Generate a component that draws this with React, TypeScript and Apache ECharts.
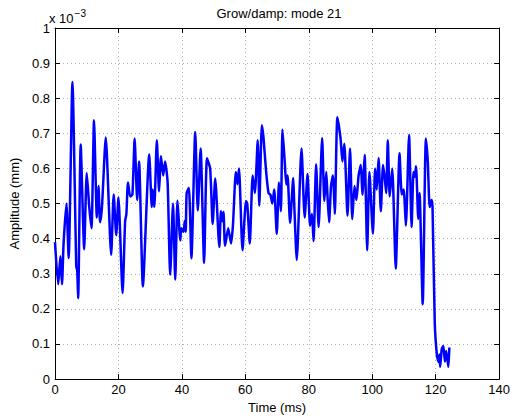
import React, { useEffect, useRef } from "react";
import * as echarts from "echarts";

const timeMs = [0, 1.0, 1.7, 2.2, 2.7, 3.6, 4.3, 5.5, 6.7, 7.0, 7.3, 8.1, 9.2, 10.0, 10.8, 11.5, 12.3, 13.2, 13.7, 14.2, 14.8, 16.0, 17.7, 18.5, 19.3, 20.0, 21.3, 22.1, 22.5, 23.0, 23.7, 24.4, 25.1, 25.9, 26.5, 27.7, 29.7, 30.5, 30.8, 31.3, 32.1, 32.8, 33.4, 34.1, 34.7, 35.5, 36.3, 37.2, 37.9, 38.6, 39.5, 39.8, 40.5, 40.9, 41.2, 41.5, 42.2, 43.0, 44.2, 45.0, 45.9, 47.0, 47.9, 48.9, 49.7, 50.5, 51.8, 52.3, 52.7, 53.1, 53.6, 54.6, 55.5, 56.1, 57.0, 57.5, 58.0, 59.1, 60.2, 60.6, 61.4, 62.3, 63.0, 63.9, 64.4, 65.2, 65.7, 66.5, 67.3, 67.9, 68.5, 69.1, 69.9, 70.6, 71.2, 71.7, 72.4, 72.9, 73.3, 74.1, 75.1, 75.4, 76.2, 77.7, 78.7, 79.6, 80.4, 81.0, 81.5, 82.3, 83.1, 84.2, 84.9, 85.5, 85.9, 86.4, 87.0, 87.6, 88.2, 89.0, 90.0, 90.6, 91.2, 92.2, 93.0, 93.7, 94.4, 95.0, 95.7, 96.4, 96.9, 97.6, 98.4, 99.1, 100.2, 100.9, 101.4, 102.0, 102.7, 103.4, 103.9, 104.4, 104.9, 105.5, 106.3, 107.4, 108.6, 109.3, 109.9, 110.6, 111.6, 112.4, 113.0, 113.4, 113.8, 114.5, 114.9, 115.9, 116.9, 117.5, 118.1, 118.7, 119.0, 119.7, 120.4, 120.9, 121.2, 121.4, 121.9, 122.4, 122.9, 123.3, 124.0, 124.3];

const amplitude = [0.39, 0.27, 0.35, 0.27, 0.385, 0.50, 0.345, 0.846, 0.32, 0.31, 0.23, 0.668, 0.37, 0.587, 0.49, 0.43, 0.737, 0.46, 0.55, 0.447, 0.49, 0.688, 0.354, 0.526, 0.41, 0.517, 0.245, 0.45, 0.47, 0.56, 0.52, 0.526, 0.685, 0.51, 0.62, 0.264, 0.64, 0.49, 0.54, 0.49, 0.68, 0.535, 0.635, 0.58, 0.62, 0.56, 0.297, 0.50, 0.283, 0.508, 0.395, 0.43, 0.42, 0.45, 0.42, 0.53, 0.545, 0.344, 0.704, 0.48, 0.657, 0.331, 0.629, 0.60, 0.442, 0.571, 0.376, 0.478, 0.45, 0.476, 0.38, 0.43, 0.386, 0.44, 0.59, 0.555, 0.60, 0.367, 0.507, 0.50, 0.386, 0.58, 0.53, 0.68, 0.494, 0.723, 0.69, 0.596, 0.53, 0.525, 0.50, 0.54, 0.414, 0.56, 0.478, 0.711, 0.62, 0.554, 0.58, 0.445, 0.573, 0.50, 0.339, 0.657, 0.46, 0.584, 0.437, 0.47, 0.393, 0.612, 0.433, 0.687, 0.507, 0.59, 0.52, 0.447, 0.55, 0.58, 0.47, 0.746, 0.686, 0.62, 0.67, 0.465, 0.657, 0.456, 0.55, 0.51, 0.58, 0.61, 0.525, 0.638, 0.367, 0.59, 0.414, 0.60, 0.54, 0.63, 0.478, 0.61, 0.576, 0.53, 0.68, 0.52, 0.60, 0.315, 0.643, 0.526, 0.54, 0.437, 0.695, 0.433, 0.59, 0.576, 0.606, 0.456, 0.53, 0.213, 0.685, 0.62, 0.49, 0.51, 0.49, 0.16, 0.067, 0.049, 0.07, 0.035, 0.085, 0.094, 0.05, 0.08, 0.035, 0.09];

const titleText = "Grow/damp: mode 21";
const xLabel = "Time (ms)";
const yLabel = "Amplitude (mm)";

export default function App() {
  const ref = useRef<HTMLDivElement>(null);
  useEffect(() => {
    if (!ref.current) return;
    document.body.style.margin = "0";
    document.body.style.overflow = "hidden";
    const chart = echarts.init(ref.current, null, { renderer: "svg", width: 513, height: 419 });
    const font = "Liberation Sans, Arial, Helvetica, sans-serif";
    const fs = 13;
    const data = timeMs.map((t, i) => [t, amplitude[i]]);
    const gridLine = { show: true, lineStyle: { color: "#b0b0b0", type: [1, 3] as any, width: 1 } };
    const axisLine = { show: true, onZero: false, lineStyle: { color: "#000", width: 1 } };
    const tick = { show: true, inside: true, length: 5, lineStyle: { color: "#000" } };
    chart.setOption({
      animation: false,
      backgroundColor: "#fff",
      textStyle: { fontFamily: font },
      title: {
        text: titleText,
        left: 274,
        textAlign: "center",
        top: 2,
        textStyle: { fontSize: fs, fontWeight: "normal", color: "#000", fontFamily: font },
      },
      grid: { left: 48, right: 13, top: 28, bottom: 35, containLabel: false },
      xAxis: [
        {
          type: "value",
          min: 0,
          max: 140,
          interval: 20,
          position: "bottom",
          name: xLabel,
          nameLocation: "middle",
          nameGap: 18,
          nameTextStyle: { fontSize: fs, color: "#000", fontFamily: font },
          axisLine,
          axisTick: tick,
          axisLabel: { color: "#000", fontSize: fs, margin: 4, fontFamily: font },
          splitLine: gridLine,
        },
        {
          type: "value",
          min: 0,
          max: 140,
          interval: 20,
          position: "top",
          axisLine,
          axisTick: tick,
          axisLabel: { show: false },
          splitLine: { show: false },
        },
      ],
      yAxis: [
        {
          type: "value",
          min: 0,
          max: 1,
          interval: 0.1,
          position: "left",
          name: yLabel,
          nameLocation: "middle",
          nameGap: 34,
          nameTextStyle: { fontSize: fs, color: "#000", fontFamily: font },
          axisLine,
          axisTick: tick,
          axisLabel: {
            color: "#000",
            fontSize: fs,
            margin: 5,
            fontFamily: font,
            formatter: (v: number) => String(Math.round(v * 10) / 10),
          },
          splitLine: gridLine,
        },
        {
          type: "value",
          min: 0,
          max: 1,
          interval: 0.1,
          position: "right",
          axisLine,
          axisTick: tick,
          axisLabel: { show: false },
          splitLine: { show: false },
        },
      ],
      graphic: [
        {
          type: "text",
          left: 49,
          top: 8,
          style: {
            text: "{a|x 10}{b|−3}",
            rich: {
              a: { fontSize: fs, fontFamily: font, fill: "#000", verticalAlign: "bottom" },
              b: { fontSize: 10, fontFamily: font, fill: "#000", verticalAlign: "top", padding: [0, 0, 7, 1] },
            },
          },
        },
      ],
      series: [
        {
          type: "line",
          data,
          showSymbol: false,
          smooth: 0.2,
          lineStyle: { color: "#0000ff", width: 2.5 },
          itemStyle: { color: "#0000ff" },
        },
      ],
    });
    return () => chart.dispose();
  }, []);
  return <div ref={ref} style={{ width: 513, height: 419 }} />;
}
